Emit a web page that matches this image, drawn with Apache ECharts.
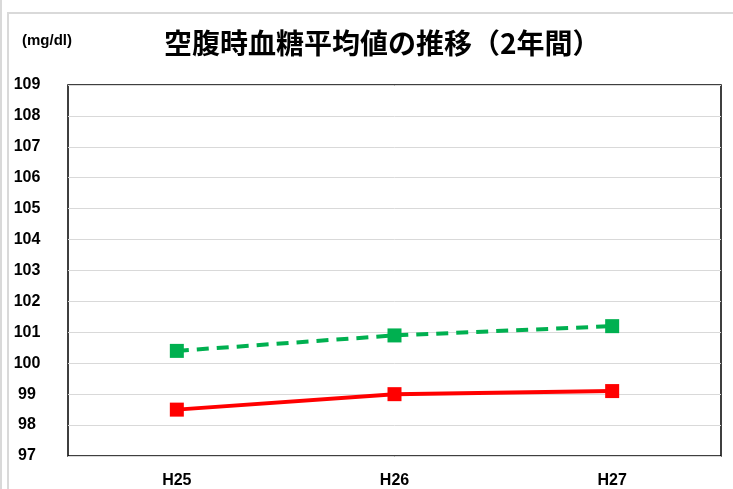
<!DOCTYPE html>
<html>
<head>
<meta charset="utf-8">
<script src="https://cdn.jsdelivr.net/npm/echarts@6/dist/echarts.min.js"></script>
<style>
  html, body { margin: 0; padding: 0; background: #ffffff; }
  #chart { width: 733px; height: 489px; }
</style>
</head>
<body>
<div id="chart"></div>
<script>
// 年度
var years = ["H25", "H26", "H27"];
// 空腹時血糖平均値 (mg/dl)
var greenSeries = [100.4, 100.9, 101.2];
var redSeries = [98.5, 99.0, 99.1];
// y軸の範囲
var yMin = 97;
var yMax = 109;

var chart = echarts.init(document.getElementById("chart"));

var labelFont = "'Liberation Sans', 'Noto Sans CJK JP', sans-serif";

var option = {
  animation: false,
  backgroundColor: "#ffffff",
  graphic: [
    // 外枠
    {
      type: "rect",
      shape: { x: 8, y: 13, width: 740, height: 500 },
      style: { fill: "none", stroke: "#d9d9d9", lineWidth: 2 },
      silent: true
    },
    {
      type: "line",
      shape: { x1: 1, y1: 0, x2: 1, y2: 489 },
      style: { stroke: "#d9d9d9", lineWidth: 2 },
      silent: true
    },
    {
      type: "text",
      left: 22,
      top: 33,
      style: {
        text: "(mg/dl)",
        fill: "#000000",
        font: "bold 15px 'Liberation Sans', sans-serif"
      }
    },
    {
      type: "text",
      left: 164,
      top: 29,
      style: {
        text: "空腹時血糖平均値の推移（2年間）",
        fill: "#000000",
        font: "bold 28px 'Noto Sans CJK JP', sans-serif"
      }
    }
  ],
  grid: {
    left: 68,
    right: 12,
    top: 85,
    bottom: 31,
    show: true,
    borderColor: "#000000",
    borderWidth: 1.5
  },
  xAxis: {
    type: "category",
    data: years,
    boundaryGap: true,
    axisLine: { show: false },
    axisTick: { show: false },
    axisLabel: {
      margin: 17,
      color: "#000000",
      fontSize: 16,
      fontWeight: "bold",
      fontFamily: labelFont
    }
  },
  yAxis: {
    type: "value",
    min: yMin,
    max: yMax,
    interval: 1,
    axisLine: { show: false },
    axisTick: { show: false },
    splitLine: { lineStyle: { color: "#d9d9d9", width: 1 } },
    axisLabel: {
      margin: 41,
      align: "center",
      color: "#000000",
      fontSize: 16,
      fontWeight: "bold",
      fontFamily: labelFont
    }
  },
  series: [
    {
      type: "line",
      data: greenSeries,
      symbol: "rect",
      symbolSize: 14,
      lineStyle: { color: "#00b050", width: 4, type: [12, 8] },
      itemStyle: { color: "#00b050" },
      z: 3
    },
    {
      type: "line",
      data: redSeries,
      symbol: "rect",
      symbolSize: 14,
      lineStyle: { color: "#ff0000", width: 4 },
      itemStyle: { color: "#ff0000" },
      z: 3
    }
  ]
};

chart.setOption(option);
</script>
</body>
</html>
